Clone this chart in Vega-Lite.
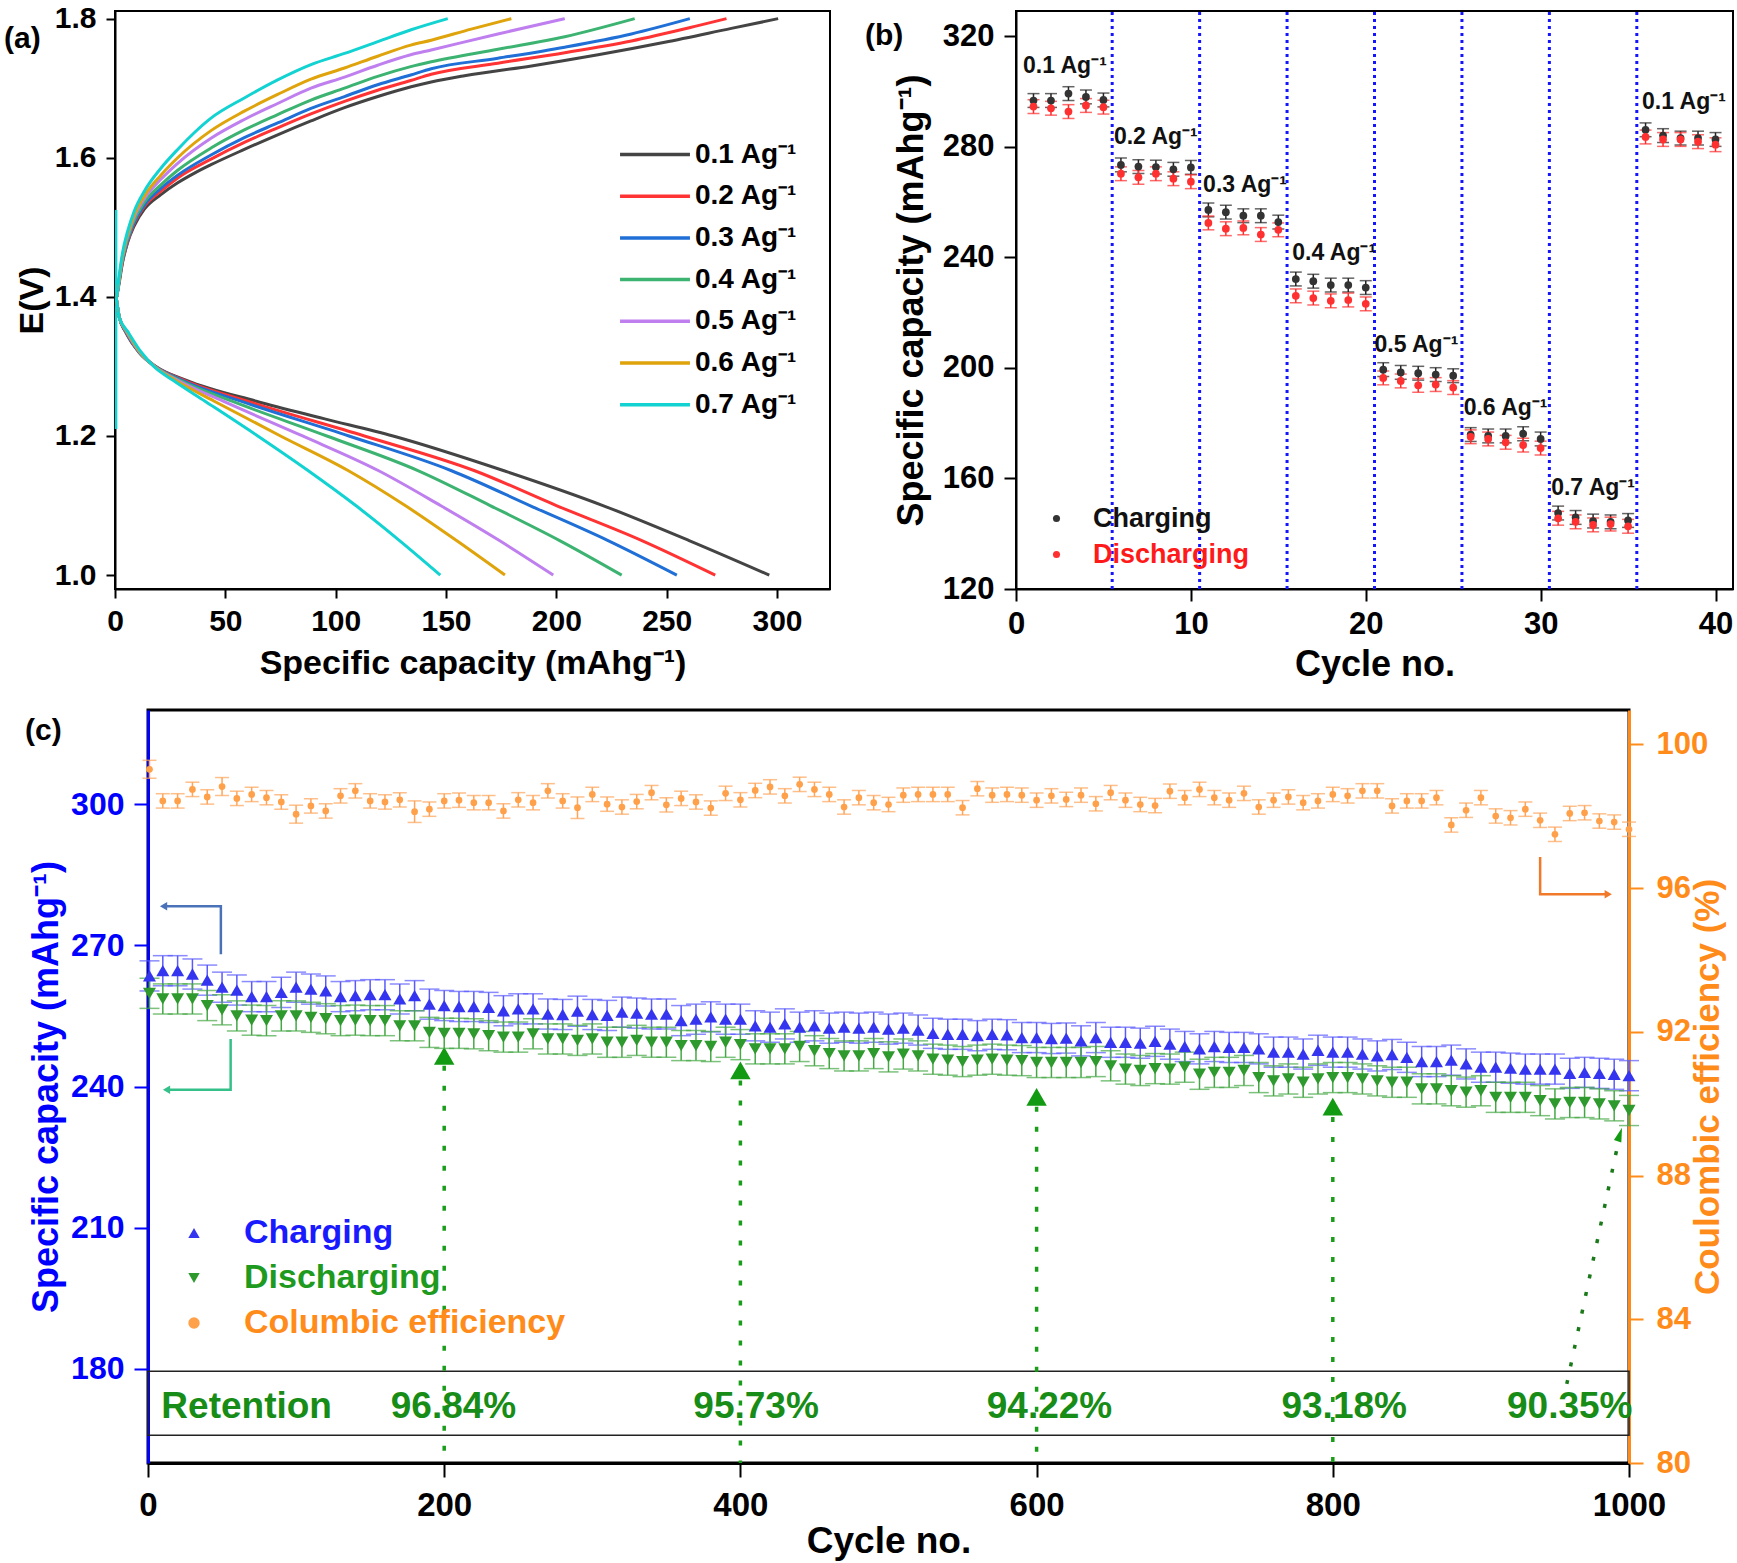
{
"$schema": "https://vega.github.io/schema/vega-lite/v6.json",
"background": "white",
"padding": {"left": 3, "top": 2, "right": 2, "bottom": 2},
"config": {
  "font": "Liberation Sans",
  "view": {"stroke": "#000000", "strokeWidth": 2},
  "axis": {"grid": false, "labelFont": "Liberation Sans", "titleFont": "Liberation Sans", "labelFontWeight": "bold", "titleFontWeight": "bold", "labelColor": "#000000", "titleColor": "#000000", "domainColor": "#000000", "tickColor": "#000000", "domainWidth": 2, "tickWidth": 2, "labelFlush": false, "labelOverlap": false},
  "legend": {"labelFont": "Liberation Sans", "labelFontWeight": "bold", "padding": 0, "symbolOpacity": 1, "labelLimit": 400},
  "title": {"font": "Liberation Sans", "fontWeight": "bold", "fontSize": 30, "color": "#000000", "anchor": "start", "frame": "group", "offset": 0}
},
"datasets": {
"gcd": [
{"r":"0.1 Ag⁻¹","b":"c","x":0.8,"E":1.4},{"r":"0.1 Ag⁻¹","b":"c","x":1.9,"E":1.42},{"r":"0.1 Ag⁻¹","b":"c","x":3.4,"E":1.449},{"r":"0.1 Ag⁻¹","b":"c","x":5.7,"E":1.478},{"r":"0.1 Ag⁻¹","b":"c","x":8.7,"E":1.502},{"r":"0.1 Ag⁻¹","b":"c","x":13.3,"E":1.526},{"r":"0.1 Ag⁻¹","b":"c","x":20.8,"E":1.547},{"r":"0.1 Ag⁻¹","b":"c","x":28.4,"E":1.564},{"r":"0.1 Ag⁻¹","b":"c","x":36,"E":1.578},{"r":"0.1 Ag⁻¹","b":"c","x":43.5,"E":1.59},{"r":"0.1 Ag⁻¹","b":"c","x":58.6,"E":1.612},{"r":"0.1 Ag⁻¹","b":"c","x":73.7,"E":1.633},{"r":"0.1 Ag⁻¹","b":"c","x":88.8,"E":1.653},{"r":"0.1 Ag⁻¹","b":"c","x":104,"E":1.672},{"r":"0.1 Ag⁻¹","b":"c","x":119.1,"E":1.688},{"r":"0.1 Ag⁻¹","b":"c","x":134.2,"E":1.702},{"r":"0.1 Ag⁻¹","b":"c","x":143.3,"E":1.709},{"r":"0.1 Ag⁻¹","b":"c","x":158.4,"E":1.718},{"r":"0.1 Ag⁻¹","b":"c","x":188.7,"E":1.732},{"r":"0.1 Ag⁻¹","b":"c","x":218.9,"E":1.748},{"r":"0.1 Ag⁻¹","b":"c","x":249.1,"E":1.766},{"r":"0.1 Ag⁻¹","b":"c","x":279.3,"E":1.786},{"r":"0.1 Ag⁻¹","b":"c","x":300.5,"E":1.8},
{"r":"0.1 Ag⁻¹","b":"d","x":0.5,"E":1.4},{"r":"0.1 Ag⁻¹","b":"d","x":2,"E":1.37},{"r":"0.1 Ag⁻¹","b":"d","x":4.7,"E":1.35},{"r":"0.1 Ag⁻¹","b":"d","x":11,"E":1.32},{"r":"0.1 Ag⁻¹","b":"d","x":18.5,"E":1.3},{"r":"0.1 Ag⁻¹","b":"d","x":32.4,"E":1.28},{"r":"0.1 Ag⁻¹","b":"d","x":64,"E":1.25},{"r":"0.1 Ag⁻¹","b":"d","x":94.6,"E":1.225},{"r":"0.1 Ag⁻¹","b":"d","x":126,"E":1.2},{"r":"0.1 Ag⁻¹","b":"d","x":176.3,"E":1.15},{"r":"0.1 Ag⁻¹","b":"d","x":221.1,"E":1.1},{"r":"0.1 Ag⁻¹","b":"d","x":259.9,"E":1.05},{"r":"0.1 Ag⁻¹","b":"d","x":296.5,"E":1.0},
{"r":"0.2 Ag⁻¹","b":"c","x":0.8,"E":1.4},{"r":"0.2 Ag⁻¹","b":"c","x":3.4,"E":1.451},{"r":"0.2 Ag⁻¹","b":"c","x":8,"E":1.5},{"r":"0.2 Ag⁻¹","b":"c","x":13.3,"E":1.53},{"r":"0.2 Ag⁻¹","b":"c","x":20.8,"E":1.552},{"r":"0.2 Ag⁻¹","b":"c","x":28.4,"E":1.571},{"r":"0.2 Ag⁻¹","b":"c","x":43.5,"E":1.598},{"r":"0.2 Ag⁻¹","b":"c","x":58.6,"E":1.622},{"r":"0.2 Ag⁻¹","b":"c","x":73.7,"E":1.643},{"r":"0.2 Ag⁻¹","b":"c","x":88.8,"E":1.663},{"r":"0.2 Ag⁻¹","b":"c","x":104,"E":1.681},{"r":"0.2 Ag⁻¹","b":"c","x":119,"E":1.697},{"r":"0.2 Ag⁻¹","b":"c","x":134,"E":1.711},{"r":"0.2 Ag⁻¹","b":"c","x":143.3,"E":1.72},{"r":"0.2 Ag⁻¹","b":"c","x":173.5,"E":1.736},{"r":"0.2 Ag⁻¹","b":"c","x":203.8,"E":1.751},{"r":"0.2 Ag⁻¹","b":"c","x":234,"E":1.768},{"r":"0.2 Ag⁻¹","b":"c","x":264.2,"E":1.79},{"r":"0.2 Ag⁻¹","b":"c","x":277.1,"E":1.8},
{"r":"0.2 Ag⁻¹","b":"d","x":0.5,"E":1.4},{"r":"0.2 Ag⁻¹","b":"d","x":2,"E":1.37},{"r":"0.2 Ag⁻¹","b":"d","x":4.8,"E":1.35},{"r":"0.2 Ag⁻¹","b":"d","x":11,"E":1.32},{"r":"0.2 Ag⁻¹","b":"d","x":18.3,"E":1.3},{"r":"0.2 Ag⁻¹","b":"d","x":31.4,"E":1.28},{"r":"0.2 Ag⁻¹","b":"d","x":60,"E":1.25},{"r":"0.2 Ag⁻¹","b":"d","x":113,"E":1.2},{"r":"0.2 Ag⁻¹","b":"d","x":163,"E":1.15},{"r":"0.2 Ag⁻¹","b":"d","x":200,"E":1.1},{"r":"0.2 Ag⁻¹","b":"d","x":238.5,"E":1.05},{"r":"0.2 Ag⁻¹","b":"d","x":272,"E":1.0},
{"r":"0.3 Ag⁻¹","b":"c","x":0.8,"E":1.4},{"r":"0.3 Ag⁻¹","b":"c","x":3.4,"E":1.452},{"r":"0.3 Ag⁻¹","b":"c","x":8,"E":1.502},{"r":"0.3 Ag⁻¹","b":"c","x":13.3,"E":1.532},{"r":"0.3 Ag⁻¹","b":"c","x":20.8,"E":1.556},{"r":"0.3 Ag⁻¹","b":"c","x":28.4,"E":1.575},{"r":"0.3 Ag⁻¹","b":"c","x":43.5,"E":1.604},{"r":"0.3 Ag⁻¹","b":"c","x":58.6,"E":1.629},{"r":"0.3 Ag⁻¹","b":"c","x":73.7,"E":1.65},{"r":"0.3 Ag⁻¹","b":"c","x":88.8,"E":1.671},{"r":"0.3 Ag⁻¹","b":"c","x":104,"E":1.688},{"r":"0.3 Ag⁻¹","b":"c","x":119,"E":1.705},{"r":"0.3 Ag⁻¹","b":"c","x":134,"E":1.719},{"r":"0.3 Ag⁻¹","b":"c","x":143.3,"E":1.728},{"r":"0.3 Ag⁻¹","b":"c","x":173.5,"E":1.743},{"r":"0.3 Ag⁻¹","b":"c","x":203.8,"E":1.759},{"r":"0.3 Ag⁻¹","b":"c","x":234,"E":1.778},{"r":"0.3 Ag⁻¹","b":"c","x":260.5,"E":1.8},
{"r":"0.3 Ag⁻¹","b":"d","x":0.5,"E":1.4},{"r":"0.3 Ag⁻¹","b":"d","x":2,"E":1.37},{"r":"0.3 Ag⁻¹","b":"d","x":4.9,"E":1.35},{"r":"0.3 Ag⁻¹","b":"d","x":11,"E":1.32},{"r":"0.3 Ag⁻¹","b":"d","x":18.2,"E":1.3},{"r":"0.3 Ag⁻¹","b":"d","x":30.4,"E":1.28},{"r":"0.3 Ag⁻¹","b":"d","x":57,"E":1.25},{"r":"0.3 Ag⁻¹","b":"d","x":106,"E":1.2},{"r":"0.3 Ag⁻¹","b":"d","x":152.5,"E":1.15},{"r":"0.3 Ag⁻¹","b":"d","x":188,"E":1.1},{"r":"0.3 Ag⁻¹","b":"d","x":223.2,"E":1.05},{"r":"0.3 Ag⁻¹","b":"d","x":254.6,"E":1.0},
{"r":"0.4 Ag⁻¹","b":"c","x":0.8,"E":1.4},{"r":"0.4 Ag⁻¹","b":"c","x":3.4,"E":1.454},{"r":"0.4 Ag⁻¹","b":"c","x":8,"E":1.505},{"r":"0.4 Ag⁻¹","b":"c","x":13.3,"E":1.536},{"r":"0.4 Ag⁻¹","b":"c","x":20.8,"E":1.561},{"r":"0.4 Ag⁻¹","b":"c","x":28.4,"E":1.582},{"r":"0.4 Ag⁻¹","b":"c","x":43.5,"E":1.614},{"r":"0.4 Ag⁻¹","b":"c","x":58.6,"E":1.64},{"r":"0.4 Ag⁻¹","b":"c","x":73.7,"E":1.662},{"r":"0.4 Ag⁻¹","b":"c","x":88.8,"E":1.683},{"r":"0.4 Ag⁻¹","b":"c","x":104,"E":1.7},{"r":"0.4 Ag⁻¹","b":"c","x":119,"E":1.717},{"r":"0.4 Ag⁻¹","b":"c","x":134,"E":1.731},{"r":"0.4 Ag⁻¹","b":"c","x":143.3,"E":1.738},{"r":"0.4 Ag⁻¹","b":"c","x":173.5,"E":1.756},{"r":"0.4 Ag⁻¹","b":"c","x":203.8,"E":1.774},{"r":"0.4 Ag⁻¹","b":"c","x":235.5,"E":1.8},
{"r":"0.4 Ag⁻¹","b":"d","x":0.5,"E":1.4},{"r":"0.4 Ag⁻¹","b":"d","x":2,"E":1.37},{"r":"0.4 Ag⁻¹","b":"d","x":5.1,"E":1.35},{"r":"0.4 Ag⁻¹","b":"d","x":11.2,"E":1.32},{"r":"0.4 Ag⁻¹","b":"d","x":18,"E":1.3},{"r":"0.4 Ag⁻¹","b":"d","x":29.4,"E":1.28},{"r":"0.4 Ag⁻¹","b":"d","x":53,"E":1.25},{"r":"0.4 Ag⁻¹","b":"d","x":96,"E":1.2},{"r":"0.4 Ag⁻¹","b":"d","x":137.5,"E":1.15},{"r":"0.4 Ag⁻¹","b":"d","x":170,"E":1.1},{"r":"0.4 Ag⁻¹","b":"d","x":201.3,"E":1.05},{"r":"0.4 Ag⁻¹","b":"d","x":229.6,"E":1.0},
{"r":"0.5 Ag⁻¹","b":"c","x":0.8,"E":1.4},{"r":"0.5 Ag⁻¹","b":"c","x":3.4,"E":1.457},{"r":"0.5 Ag⁻¹","b":"c","x":8,"E":1.509},{"r":"0.5 Ag⁻¹","b":"c","x":13.3,"E":1.541},{"r":"0.5 Ag⁻¹","b":"c","x":20.8,"E":1.569},{"r":"0.5 Ag⁻¹","b":"c","x":28.4,"E":1.592},{"r":"0.5 Ag⁻¹","b":"c","x":43.5,"E":1.628},{"r":"0.5 Ag⁻¹","b":"c","x":58.6,"E":1.655},{"r":"0.5 Ag⁻¹","b":"c","x":73.7,"E":1.678},{"r":"0.5 Ag⁻¹","b":"c","x":88.8,"E":1.7},{"r":"0.5 Ag⁻¹","b":"c","x":104,"E":1.716},{"r":"0.5 Ag⁻¹","b":"c","x":119,"E":1.733},{"r":"0.5 Ag⁻¹","b":"c","x":134,"E":1.748},{"r":"0.5 Ag⁻¹","b":"c","x":143.3,"E":1.755},{"r":"0.5 Ag⁻¹","b":"c","x":173.5,"E":1.778},{"r":"0.5 Ag⁻¹","b":"c","x":203.8,"E":1.8},
{"r":"0.5 Ag⁻¹","b":"d","x":0.5,"E":1.4},{"r":"0.5 Ag⁻¹","b":"d","x":2,"E":1.37},{"r":"0.5 Ag⁻¹","b":"d","x":5.3,"E":1.35},{"r":"0.5 Ag⁻¹","b":"d","x":11.4,"E":1.32},{"r":"0.5 Ag⁻¹","b":"d","x":17.9,"E":1.3},{"r":"0.5 Ag⁻¹","b":"d","x":28.4,"E":1.28},{"r":"0.5 Ag⁻¹","b":"d","x":49,"E":1.25},{"r":"0.5 Ag⁻¹","b":"d","x":85,"E":1.2},{"r":"0.5 Ag⁻¹","b":"d","x":119.5,"E":1.15},{"r":"0.5 Ag⁻¹","b":"d","x":147.5,"E":1.1},{"r":"0.5 Ag⁻¹","b":"d","x":174,"E":1.05},{"r":"0.5 Ag⁻¹","b":"d","x":198.6,"E":1.0},
{"r":"0.6 Ag⁻¹","b":"c","x":0.8,"E":1.4},{"r":"0.6 Ag⁻¹","b":"c","x":3.4,"E":1.459},{"r":"0.6 Ag⁻¹","b":"c","x":8,"E":1.512},{"r":"0.6 Ag⁻¹","b":"c","x":13.3,"E":1.545},{"r":"0.6 Ag⁻¹","b":"c","x":20.8,"E":1.575},{"r":"0.6 Ag⁻¹","b":"c","x":28.4,"E":1.6},{"r":"0.6 Ag⁻¹","b":"c","x":43.5,"E":1.639},{"r":"0.6 Ag⁻¹","b":"c","x":58.6,"E":1.667},{"r":"0.6 Ag⁻¹","b":"c","x":73.7,"E":1.691},{"r":"0.6 Ag⁻¹","b":"c","x":88.8,"E":1.713},{"r":"0.6 Ag⁻¹","b":"c","x":104,"E":1.729},{"r":"0.6 Ag⁻¹","b":"c","x":119,"E":1.746},{"r":"0.6 Ag⁻¹","b":"c","x":134,"E":1.762},{"r":"0.6 Ag⁻¹","b":"c","x":143.3,"E":1.769},{"r":"0.6 Ag⁻¹","b":"c","x":161.4,"E":1.785},{"r":"0.6 Ag⁻¹","b":"c","x":179.6,"E":1.8},
{"r":"0.6 Ag⁻¹","b":"d","x":0.5,"E":1.4},{"r":"0.6 Ag⁻¹","b":"d","x":2,"E":1.37},{"r":"0.6 Ag⁻¹","b":"d","x":5.5,"E":1.35},{"r":"0.6 Ag⁻¹","b":"d","x":11.6,"E":1.32},{"r":"0.6 Ag⁻¹","b":"d","x":17.8,"E":1.3},{"r":"0.6 Ag⁻¹","b":"d","x":27.4,"E":1.28},{"r":"0.6 Ag⁻¹","b":"d","x":45,"E":1.25},{"r":"0.6 Ag⁻¹","b":"d","x":75,"E":1.2},{"r":"0.6 Ag⁻¹","b":"d","x":105.8,"E":1.15},{"r":"0.6 Ag⁻¹","b":"d","x":131.5,"E":1.1},{"r":"0.6 Ag⁻¹","b":"d","x":154.6,"E":1.05},{"r":"0.6 Ag⁻¹","b":"d","x":176.7,"E":1.0},
{"r":"0.7 Ag⁻¹","b":"c","x":0.8,"E":1.4},{"r":"0.7 Ag⁻¹","b":"c","x":1.9,"E":1.43},{"r":"0.7 Ag⁻¹","b":"c","x":3.4,"E":1.463},{"r":"0.7 Ag⁻¹","b":"c","x":5.7,"E":1.494},{"r":"0.7 Ag⁻¹","b":"c","x":8.7,"E":1.523},{"r":"0.7 Ag⁻¹","b":"c","x":13.3,"E":1.552},{"r":"0.7 Ag⁻¹","b":"c","x":20.8,"E":1.585},{"r":"0.7 Ag⁻¹","b":"c","x":28.4,"E":1.612},{"r":"0.7 Ag⁻¹","b":"c","x":35.9,"E":1.636},{"r":"0.7 Ag⁻¹","b":"c","x":43.5,"E":1.657},{"r":"0.7 Ag⁻¹","b":"c","x":58.6,"E":1.686},{"r":"0.7 Ag⁻¹","b":"c","x":73.7,"E":1.712},{"r":"0.7 Ag⁻¹","b":"c","x":88.8,"E":1.734},{"r":"0.7 Ag⁻¹","b":"c","x":104,"E":1.75},{"r":"0.7 Ag⁻¹","b":"c","x":119.1,"E":1.767},{"r":"0.7 Ag⁻¹","b":"c","x":134.2,"E":1.784},{"r":"0.7 Ag⁻¹","b":"c","x":150.8,"E":1.8},
{"r":"0.7 Ag⁻¹","b":"d","x":0.5,"E":1.4},{"r":"0.7 Ag⁻¹","b":"d","x":2,"E":1.37},{"r":"0.7 Ag⁻¹","b":"d","x":5.8,"E":1.35},{"r":"0.7 Ag⁻¹","b":"d","x":12,"E":1.32},{"r":"0.7 Ag⁻¹","b":"d","x":17.6,"E":1.3},{"r":"0.7 Ag⁻¹","b":"d","x":26.3,"E":1.28},{"r":"0.7 Ag⁻¹","b":"d","x":40.8,"E":1.25},{"r":"0.7 Ag⁻¹","b":"d","x":64.7,"E":1.2},{"r":"0.7 Ag⁻¹","b":"d","x":87.6,"E":1.15},{"r":"0.7 Ag⁻¹","b":"d","x":109.1,"E":1.1},{"r":"0.7 Ag⁻¹","b":"d","x":128.8,"E":1.05},{"r":"0.7 Ag⁻¹","b":"d","x":147.4,"E":1.0}
],
"rate": [
{"cyc":1,"s":"Charging","v":296.8,"e":2.5},{"cyc":2,"s":"Charging","v":296.8,"e":2.5},{"cyc":3,"s":"Charging","v":299.3,"e":2.5},{"cyc":4,"s":"Charging","v":298.1,"e":2.5},{"cyc":5,"s":"Charging","v":297.0,"e":2.5},
{"cyc":6,"s":"Charging","v":273.5,"e":2.5},{"cyc":7,"s":"Charging","v":272.9,"e":2.5},{"cyc":8,"s":"Charging","v":272.7,"e":2.5},{"cyc":9,"s":"Charging","v":271.9,"e":2.5},{"cyc":10,"s":"Charging","v":272.6,"e":2.5},
{"cyc":11,"s":"Charging","v":257.2,"e":2.5},{"cyc":12,"s":"Charging","v":256.4,"e":2.5},{"cyc":13,"s":"Charging","v":255.1,"e":2.5},{"cyc":14,"s":"Charging","v":255.1,"e":2.5},{"cyc":15,"s":"Charging","v":252.8,"e":2.5},
{"cyc":16,"s":"Charging","v":232.2,"e":2.5},{"cyc":17,"s":"Charging","v":231.4,"e":2.5},{"cyc":18,"s":"Charging","v":230.0,"e":2.5},{"cyc":19,"s":"Charging","v":230.0,"e":2.5},{"cyc":20,"s":"Charging","v":229.1,"e":2.5},
{"cyc":21,"s":"Charging","v":199.4,"e":2.5},{"cyc":22,"s":"Charging","v":198.4,"e":2.5},{"cyc":23,"s":"Charging","v":198.1,"e":2.5},{"cyc":24,"s":"Charging","v":197.6,"e":2.5},{"cyc":25,"s":"Charging","v":197.2,"e":2.5},
{"cyc":26,"s":"Charging","v":175.9,"e":2.5},{"cyc":27,"s":"Charging","v":175.4,"e":2.5},{"cyc":28,"s":"Charging","v":175.4,"e":2.5},{"cyc":29,"s":"Charging","v":176.2,"e":2.5},{"cyc":30,"s":"Charging","v":174.3,"e":2.5},
{"cyc":31,"s":"Charging","v":147.5,"e":2.5},{"cyc":32,"s":"Charging","v":145.9,"e":2.5},{"cyc":33,"s":"Charging","v":144.6,"e":2.5},{"cyc":34,"s":"Charging","v":144.3,"e":2.5},{"cyc":35,"s":"Charging","v":144.8,"e":2.5},
{"cyc":36,"s":"Charging","v":286.2,"e":2.5},{"cyc":37,"s":"Charging","v":284.1,"e":2.5},{"cyc":38,"s":"Charging","v":283.2,"e":2.5},{"cyc":39,"s":"Charging","v":283.2,"e":2.5},{"cyc":40,"s":"Charging","v":282.7,"e":2.5},
{"cyc":1,"s":"Discharging","v":294.6,"e":2.5},{"cyc":2,"s":"Discharging","v":294.0,"e":2.5},{"cyc":3,"s":"Discharging","v":292.8,"e":2.5},{"cyc":4,"s":"Discharging","v":295.0,"e":2.5},{"cyc":5,"s":"Discharging","v":294.4,"e":2.5},
{"cyc":6,"s":"Discharging","v":270.3,"e":2.5},{"cyc":7,"s":"Discharging","v":269.0,"e":2.5},{"cyc":8,"s":"Discharging","v":270.3,"e":2.5},{"cyc":9,"s":"Discharging","v":268.5,"e":2.5},{"cyc":10,"s":"Discharging","v":267.4,"e":2.5},
{"cyc":11,"s":"Discharging","v":252.5,"e":2.5},{"cyc":12,"s":"Discharging","v":250.4,"e":2.5},{"cyc":13,"s":"Discharging","v":250.7,"e":2.5},{"cyc":14,"s":"Discharging","v":248.3,"e":2.5},{"cyc":15,"s":"Discharging","v":250.0,"e":2.5},
{"cyc":16,"s":"Discharging","v":226.1,"e":2.5},{"cyc":17,"s":"Discharging","v":225.3,"e":2.5},{"cyc":18,"s":"Discharging","v":224.3,"e":2.5},{"cyc":19,"s":"Discharging","v":224.6,"e":2.5},{"cyc":20,"s":"Discharging","v":223.2,"e":2.5},
{"cyc":21,"s":"Discharging","v":196.4,"e":2.5},{"cyc":22,"s":"Discharging","v":195.3,"e":2.5},{"cyc":23,"s":"Discharging","v":193.7,"e":2.5},{"cyc":24,"s":"Discharging","v":194.0,"e":2.5},{"cyc":25,"s":"Discharging","v":192.9,"e":2.5},
{"cyc":26,"s":"Discharging","v":175.1,"e":2.5},{"cyc":27,"s":"Discharging","v":174.3,"e":2.5},{"cyc":28,"s":"Discharging","v":173.1,"e":2.5},{"cyc":29,"s":"Discharging","v":172.1,"e":2.5},{"cyc":30,"s":"Discharging","v":171.0,"e":2.5},
{"cyc":31,"s":"Discharging","v":145.6,"e":2.5},{"cyc":32,"s":"Discharging","v":144.3,"e":2.5},{"cyc":33,"s":"Discharging","v":143.2,"e":2.5},{"cyc":34,"s":"Discharging","v":143.5,"e":2.5},{"cyc":35,"s":"Discharging","v":142.7,"e":2.5},
{"cyc":36,"s":"Discharging","v":283.6,"e":2.5},{"cyc":37,"s":"Discharging","v":282.7,"e":2.5},{"cyc":38,"s":"Discharging","v":282.7,"e":2.5},{"cyc":39,"s":"Discharging","v":281.9,"e":2.5},{"cyc":40,"s":"Discharging","v":280.8,"e":2.5}
],
"cap": [
{"cycle":1,"s":"Charging","v":263.5,"e":3.2},{"cycle":10,"s":"Charging","v":264.6,"e":3.2},{"cycle":20,"s":"Charging","v":264.6,"e":3.2},{"cycle":30,"s":"Charging","v":263.9,"e":3.2},{"cycle":40,"s":"Charging","v":262.6,"e":3.2},{"cycle":50,"s":"Charging","v":261.1,"e":3.2},{"cycle":60,"s":"Charging","v":260.5,"e":3.2},{"cycle":70,"s":"Charging","v":259.1,"e":3.2},{"cycle":80,"s":"Charging","v":259.1,"e":3.2},{"cycle":90,"s":"Charging","v":260.0,"e":3.2},
{"cycle":100,"s":"Charging","v":261.1,"e":3.2},{"cycle":110,"s":"Charging","v":260.7,"e":3.2},{"cycle":120,"s":"Charging","v":260.3,"e":3.2},{"cycle":130,"s":"Charging","v":259.1,"e":3.2},{"cycle":140,"s":"Charging","v":259.3,"e":3.2},{"cycle":150,"s":"Charging","v":259.5,"e":3.2},{"cycle":160,"s":"Charging","v":259.5,"e":3.2},{"cycle":170,"s":"Charging","v":258.6,"e":3.2},{"cycle":180,"s":"Charging","v":259.3,"e":3.2},{"cycle":190,"s":"Charging","v":257.5,"e":3.2},
{"cycle":200,"s":"Charging","v":257.2,"e":3.2},{"cycle":210,"s":"Charging","v":257.0,"e":3.2},{"cycle":220,"s":"Charging","v":257.0,"e":3.2},{"cycle":230,"s":"Charging","v":256.8,"e":3.2},{"cycle":240,"s":"Charging","v":256.1,"e":3.2},{"cycle":250,"s":"Charging","v":256.5,"e":3.2},{"cycle":260,"s":"Charging","v":256.5,"e":3.2},{"cycle":270,"s":"Charging","v":255.4,"e":3.2},{"cycle":280,"s":"Charging","v":255.3,"e":3.2},{"cycle":290,"s":"Charging","v":256.0,"e":3.2},
{"cycle":300,"s":"Charging","v":255.3,"e":3.2},{"cycle":310,"s":"Charging","v":255.1,"e":3.2},{"cycle":320,"s":"Charging","v":255.8,"e":3.2},{"cycle":330,"s":"Charging","v":255.6,"e":3.2},{"cycle":340,"s":"Charging","v":255.4,"e":3.2},{"cycle":350,"s":"Charging","v":255.4,"e":3.2},{"cycle":360,"s":"Charging","v":254.0,"e":3.2},{"cycle":370,"s":"Charging","v":254.3,"e":3.2},{"cycle":380,"s":"Charging","v":254.8,"e":3.2},{"cycle":390,"s":"Charging","v":254.3,"e":3.2},
{"cycle":400,"s":"Charging","v":254.3,"e":3.2},{"cycle":410,"s":"Charging","v":252.9,"e":3.2},{"cycle":420,"s":"Charging","v":252.6,"e":3.2},{"cycle":430,"s":"Charging","v":253.3,"e":3.2},{"cycle":440,"s":"Charging","v":252.6,"e":3.2},{"cycle":450,"s":"Charging","v":252.9,"e":3.2},{"cycle":460,"s":"Charging","v":252.4,"e":3.2},{"cycle":470,"s":"Charging","v":252.6,"e":3.2},{"cycle":480,"s":"Charging","v":252.4,"e":3.2},{"cycle":490,"s":"Charging","v":252.6,"e":3.2},
{"cycle":500,"s":"Charging","v":252.2,"e":3.2},{"cycle":510,"s":"Charging","v":252.4,"e":3.2},{"cycle":520,"s":"Charging","v":252.0,"e":3.2},{"cycle":530,"s":"Charging","v":251.3,"e":3.2},{"cycle":540,"s":"Charging","v":251.1,"e":3.2},{"cycle":550,"s":"Charging","v":251.1,"e":3.2},{"cycle":560,"s":"Charging","v":250.8,"e":3.2},{"cycle":570,"s":"Charging","v":251.1,"e":3.2},{"cycle":580,"s":"Charging","v":251.0,"e":3.2},{"cycle":590,"s":"Charging","v":250.4,"e":3.2},
{"cycle":600,"s":"Charging","v":250.4,"e":3.2},{"cycle":610,"s":"Charging","v":250.2,"e":3.2},{"cycle":620,"s":"Charging","v":250.3,"e":3.2},{"cycle":630,"s":"Charging","v":249.7,"e":3.2},{"cycle":640,"s":"Charging","v":250.4,"e":3.2},{"cycle":650,"s":"Charging","v":249.4,"e":3.2},{"cycle":660,"s":"Charging","v":249.4,"e":3.2},{"cycle":670,"s":"Charging","v":249.2,"e":3.2},{"cycle":680,"s":"Charging","v":249.6,"e":3.2},{"cycle":690,"s":"Charging","v":249.0,"e":3.2},
{"cycle":700,"s":"Charging","v":248.5,"e":3.2},{"cycle":710,"s":"Charging","v":248.0,"e":3.2},{"cycle":720,"s":"Charging","v":248.5,"e":3.2},{"cycle":730,"s":"Charging","v":248.3,"e":3.2},{"cycle":740,"s":"Charging","v":248.3,"e":3.2},{"cycle":750,"s":"Charging","v":248.0,"e":3.2},{"cycle":760,"s":"Charging","v":247.3,"e":3.2},{"cycle":770,"s":"Charging","v":247.3,"e":3.2},{"cycle":780,"s":"Charging","v":246.9,"e":3.2},{"cycle":790,"s":"Charging","v":247.7,"e":3.2},
{"cycle":800,"s":"Charging","v":247.3,"e":3.2},{"cycle":810,"s":"Charging","v":247.3,"e":3.2},{"cycle":820,"s":"Charging","v":246.9,"e":3.2},{"cycle":830,"s":"Charging","v":246.5,"e":3.2},{"cycle":840,"s":"Charging","v":246.8,"e":3.2},{"cycle":850,"s":"Charging","v":246.2,"e":3.2},{"cycle":860,"s":"Charging","v":245.3,"e":3.2},{"cycle":870,"s":"Charging","v":245.3,"e":3.2},{"cycle":880,"s":"Charging","v":245.6,"e":3.2},{"cycle":890,"s":"Charging","v":244.8,"e":3.2},
{"cycle":900,"s":"Charging","v":244.1,"e":3.2},{"cycle":910,"s":"Charging","v":244.1,"e":3.2},{"cycle":920,"s":"Charging","v":243.9,"e":3.2},{"cycle":930,"s":"Charging","v":243.7,"e":3.2},{"cycle":940,"s":"Charging","v":243.7,"e":3.2},{"cycle":950,"s":"Charging","v":243.7,"e":3.2},{"cycle":960,"s":"Charging","v":242.8,"e":3.2},{"cycle":970,"s":"Charging","v":243.0,"e":3.2},{"cycle":980,"s":"Charging","v":242.8,"e":3.2},{"cycle":990,"s":"Charging","v":242.6,"e":3.2},{"cycle":1000,"s":"Charging","v":242.3,"e":3.2},
{"cycle":1,"s":"Discharging","v":259.8,"e":3.2},{"cycle":10,"s":"Discharging","v":258.6,"e":3.2},{"cycle":20,"s":"Discharging","v":258.6,"e":3.2},{"cycle":30,"s":"Discharging","v":258.6,"e":3.2},{"cycle":40,"s":"Discharging","v":257.2,"e":3.2},{"cycle":50,"s":"Discharging","v":256.3,"e":3.2},{"cycle":60,"s":"Discharging","v":255.0,"e":3.2},{"cycle":70,"s":"Discharging","v":254.1,"e":3.2},{"cycle":80,"s":"Discharging","v":254.0,"e":3.2},{"cycle":90,"s":"Discharging","v":255.0,"e":3.2},
{"cycle":100,"s":"Discharging","v":255.0,"e":3.2},{"cycle":110,"s":"Discharging","v":254.7,"e":3.2},{"cycle":120,"s":"Discharging","v":254.4,"e":3.2},{"cycle":130,"s":"Discharging","v":254.0,"e":3.2},{"cycle":140,"s":"Discharging","v":254.1,"e":3.2},{"cycle":150,"s":"Discharging","v":254.0,"e":3.2},{"cycle":160,"s":"Discharging","v":254.0,"e":3.2},{"cycle":170,"s":"Discharging","v":252.9,"e":3.2},{"cycle":180,"s":"Discharging","v":252.9,"e":3.2},{"cycle":190,"s":"Discharging","v":251.5,"e":3.2},
{"cycle":200,"s":"Discharging","v":251.3,"e":3.2},{"cycle":210,"s":"Discharging","v":251.3,"e":3.2},{"cycle":220,"s":"Discharging","v":251.2,"e":3.2},{"cycle":230,"s":"Discharging","v":250.8,"e":3.2},{"cycle":240,"s":"Discharging","v":250.5,"e":3.2},{"cycle":250,"s":"Discharging","v":250.5,"e":3.2},{"cycle":260,"s":"Discharging","v":251.2,"e":3.2},{"cycle":270,"s":"Discharging","v":250.1,"e":3.2},{"cycle":280,"s":"Discharging","v":250.1,"e":3.2},{"cycle":290,"s":"Discharging","v":249.8,"e":3.2},
{"cycle":300,"s":"Discharging","v":250.1,"e":3.2},{"cycle":310,"s":"Discharging","v":249.4,"e":3.2},{"cycle":320,"s":"Discharging","v":249.4,"e":3.2},{"cycle":330,"s":"Discharging","v":249.8,"e":3.2},{"cycle":340,"s":"Discharging","v":249.4,"e":3.2},{"cycle":350,"s":"Discharging","v":249.4,"e":3.2},{"cycle":360,"s":"Discharging","v":248.7,"e":3.2},{"cycle":370,"s":"Discharging","v":248.7,"e":3.2},{"cycle":380,"s":"Discharging","v":248.5,"e":3.2},{"cycle":390,"s":"Discharging","v":249.4,"e":3.2},
{"cycle":400,"s":"Discharging","v":248.9,"e":3.2},{"cycle":410,"s":"Discharging","v":248.0,"e":3.2},{"cycle":420,"s":"Discharging","v":248.0,"e":3.2},{"cycle":430,"s":"Discharging","v":248.0,"e":3.2},{"cycle":440,"s":"Discharging","v":248.5,"e":3.2},{"cycle":450,"s":"Discharging","v":247.6,"e":3.2},{"cycle":460,"s":"Discharging","v":247.0,"e":3.2},{"cycle":470,"s":"Discharging","v":246.5,"e":3.2},{"cycle":480,"s":"Discharging","v":246.5,"e":3.2},{"cycle":490,"s":"Discharging","v":247.0,"e":3.2},
{"cycle":500,"s":"Discharging","v":246.3,"e":3.2},{"cycle":510,"s":"Discharging","v":246.9,"e":3.2},{"cycle":520,"s":"Discharging","v":246.5,"e":3.2},{"cycle":530,"s":"Discharging","v":245.8,"e":3.2},{"cycle":540,"s":"Discharging","v":245.6,"e":3.2},{"cycle":550,"s":"Discharging","v":245.3,"e":3.2},{"cycle":560,"s":"Discharging","v":245.6,"e":3.2},{"cycle":570,"s":"Discharging","v":245.8,"e":3.2},{"cycle":580,"s":"Discharging","v":245.6,"e":3.2},{"cycle":590,"s":"Discharging","v":245.5,"e":3.2},
{"cycle":600,"s":"Discharging","v":245.1,"e":3.2},{"cycle":610,"s":"Discharging","v":245.1,"e":3.2},{"cycle":620,"s":"Discharging","v":245.1,"e":3.2},{"cycle":630,"s":"Discharging","v":245.1,"e":3.2},{"cycle":640,"s":"Discharging","v":245.3,"e":3.2},{"cycle":650,"s":"Discharging","v":244.4,"e":3.2},{"cycle":660,"s":"Discharging","v":243.7,"e":3.2},{"cycle":670,"s":"Discharging","v":243.4,"e":3.2},{"cycle":680,"s":"Discharging","v":243.8,"e":3.2},{"cycle":690,"s":"Discharging","v":243.7,"e":3.2},
{"cycle":700,"s":"Discharging","v":244.1,"e":3.2},{"cycle":710,"s":"Discharging","v":242.6,"e":3.2},{"cycle":720,"s":"Discharging","v":243.0,"e":3.2},{"cycle":730,"s":"Discharging","v":243.0,"e":3.2},{"cycle":740,"s":"Discharging","v":243.4,"e":3.2},{"cycle":750,"s":"Discharging","v":241.9,"e":3.2},{"cycle":760,"s":"Discharging","v":241.2,"e":3.2},{"cycle":770,"s":"Discharging","v":241.6,"e":3.2},{"cycle":780,"s":"Discharging","v":240.9,"e":3.2},{"cycle":790,"s":"Discharging","v":241.6,"e":3.2},
{"cycle":800,"s":"Discharging","v":241.9,"e":3.2},{"cycle":810,"s":"Discharging","v":241.9,"e":3.2},{"cycle":820,"s":"Discharging","v":241.6,"e":3.2},{"cycle":830,"s":"Discharging","v":241.2,"e":3.2},{"cycle":840,"s":"Discharging","v":240.9,"e":3.2},{"cycle":850,"s":"Discharging","v":240.9,"e":3.2},{"cycle":860,"s":"Discharging","v":239.5,"e":3.2},{"cycle":870,"s":"Discharging","v":239.5,"e":3.2},{"cycle":880,"s":"Discharging","v":239.1,"e":3.2},{"cycle":890,"s":"Discharging","v":238.8,"e":3.2},
{"cycle":900,"s":"Discharging","v":239.1,"e":3.2},{"cycle":910,"s":"Discharging","v":237.7,"e":3.2},{"cycle":920,"s":"Discharging","v":237.7,"e":3.2},{"cycle":930,"s":"Discharging","v":237.7,"e":3.2},{"cycle":940,"s":"Discharging","v":237.0,"e":3.2},{"cycle":950,"s":"Discharging","v":236.3,"e":3.2},{"cycle":960,"s":"Discharging","v":236.6,"e":3.2},{"cycle":970,"s":"Discharging","v":236.6,"e":3.2},{"cycle":980,"s":"Discharging","v":236.3,"e":3.2},{"cycle":990,"s":"Discharging","v":235.9,"e":3.2},{"cycle":1000,"s":"Discharging","v":234.9,"e":3.2}
],
"ce": [
{"cycle":1,"s":"Columbic efficiency","ce":99.31,"e":0.25},{"cycle":10,"s":"Columbic efficiency","ce":98.43,"e":0.2},{"cycle":20,"s":"Columbic efficiency","ce":98.43,"e":0.2},{"cycle":30,"s":"Columbic efficiency","ce":98.75,"e":0.2},{"cycle":40,"s":"Columbic efficiency","ce":98.54,"e":0.2},{"cycle":50,"s":"Columbic efficiency","ce":98.83,"e":0.25},{"cycle":60,"s":"Columbic efficiency","ce":98.5,"e":0.2},{"cycle":70,"s":"Columbic efficiency","ce":98.61,"e":0.2},{"cycle":80,"s":"Columbic efficiency","ce":98.52,"e":0.2},{"cycle":90,"s":"Columbic efficiency","ce":98.4,"e":0.2},
{"cycle":100,"s":"Columbic efficiency","ce":98.06,"e":0.25},{"cycle":110,"s":"Columbic efficiency","ce":98.29,"e":0.2},{"cycle":120,"s":"Columbic efficiency","ce":98.15,"e":0.2},{"cycle":130,"s":"Columbic efficiency","ce":98.57,"e":0.2},{"cycle":140,"s":"Columbic efficiency","ce":98.71,"e":0.2},{"cycle":150,"s":"Columbic efficiency","ce":98.43,"e":0.2},{"cycle":160,"s":"Columbic efficiency","ce":98.4,"e":0.2},{"cycle":170,"s":"Columbic efficiency","ce":98.46,"e":0.2},{"cycle":180,"s":"Columbic efficiency","ce":98.13,"e":0.3},{"cycle":190,"s":"Columbic efficiency","ce":98.2,"e":0.2},
{"cycle":200,"s":"Columbic efficiency","ce":98.43,"e":0.2},{"cycle":210,"s":"Columbic efficiency","ce":98.45,"e":0.2},{"cycle":220,"s":"Columbic efficiency","ce":98.38,"e":0.2},{"cycle":230,"s":"Columbic efficiency","ce":98.38,"e":0.2},{"cycle":240,"s":"Columbic efficiency","ce":98.15,"e":0.2},{"cycle":250,"s":"Columbic efficiency","ce":98.46,"e":0.2},{"cycle":260,"s":"Columbic efficiency","ce":98.38,"e":0.2},{"cycle":270,"s":"Columbic efficiency","ce":98.71,"e":0.2},{"cycle":280,"s":"Columbic efficiency","ce":98.43,"e":0.2},{"cycle":290,"s":"Columbic efficiency","ce":98.24,"e":0.3},
{"cycle":300,"s":"Columbic efficiency","ce":98.61,"e":0.2},{"cycle":310,"s":"Columbic efficiency","ce":98.34,"e":0.2},{"cycle":320,"s":"Columbic efficiency","ce":98.26,"e":0.2},{"cycle":330,"s":"Columbic efficiency","ce":98.41,"e":0.2},{"cycle":340,"s":"Columbic efficiency","ce":98.66,"e":0.2},{"cycle":350,"s":"Columbic efficiency","ce":98.32,"e":0.2},{"cycle":360,"s":"Columbic efficiency","ce":98.5,"e":0.2},{"cycle":370,"s":"Columbic efficiency","ce":98.4,"e":0.2},{"cycle":380,"s":"Columbic efficiency","ce":98.23,"e":0.2},{"cycle":390,"s":"Columbic efficiency","ce":98.64,"e":0.2},
{"cycle":400,"s":"Columbic efficiency","ce":98.46,"e":0.2},{"cycle":410,"s":"Columbic efficiency","ce":98.72,"e":0.2},{"cycle":420,"s":"Columbic efficiency","ce":98.82,"e":0.2},{"cycle":430,"s":"Columbic efficiency","ce":98.57,"e":0.2},{"cycle":440,"s":"Columbic efficiency","ce":98.89,"e":0.2},{"cycle":450,"s":"Columbic efficiency","ce":98.75,"e":0.2},{"cycle":460,"s":"Columbic efficiency","ce":98.61,"e":0.2},{"cycle":470,"s":"Columbic efficiency","ce":98.26,"e":0.2},{"cycle":480,"s":"Columbic efficiency","ce":98.52,"e":0.2},{"cycle":490,"s":"Columbic efficiency","ce":98.38,"e":0.2},
{"cycle":500,"s":"Columbic efficiency","ce":98.33,"e":0.2},{"cycle":510,"s":"Columbic efficiency","ce":98.59,"e":0.2},{"cycle":520,"s":"Columbic efficiency","ce":98.61,"e":0.2},{"cycle":530,"s":"Columbic efficiency","ce":98.61,"e":0.2},{"cycle":540,"s":"Columbic efficiency","ce":98.61,"e":0.2},{"cycle":550,"s":"Columbic efficiency","ce":98.24,"e":0.2},{"cycle":560,"s":"Columbic efficiency","ce":98.77,"e":0.2},{"cycle":570,"s":"Columbic efficiency","ce":98.59,"e":0.2},{"cycle":580,"s":"Columbic efficiency","ce":98.61,"e":0.2},{"cycle":590,"s":"Columbic efficiency","ce":98.59,"e":0.2},
{"cycle":600,"s":"Columbic efficiency","ce":98.45,"e":0.2},{"cycle":610,"s":"Columbic efficiency","ce":98.57,"e":0.2},{"cycle":620,"s":"Columbic efficiency","ce":98.47,"e":0.2},{"cycle":630,"s":"Columbic efficiency","ce":98.59,"e":0.2},{"cycle":640,"s":"Columbic efficiency","ce":98.35,"e":0.2},{"cycle":650,"s":"Columbic efficiency","ce":98.66,"e":0.2},{"cycle":660,"s":"Columbic efficiency","ce":98.45,"e":0.2},{"cycle":670,"s":"Columbic efficiency","ce":98.33,"e":0.2},{"cycle":680,"s":"Columbic efficiency","ce":98.3,"e":0.2},{"cycle":690,"s":"Columbic efficiency","ce":98.7,"e":0.2},
{"cycle":700,"s":"Columbic efficiency","ce":98.52,"e":0.2},{"cycle":710,"s":"Columbic efficiency","ce":98.75,"e":0.2},{"cycle":720,"s":"Columbic efficiency","ce":98.52,"e":0.2},{"cycle":730,"s":"Columbic efficiency","ce":98.45,"e":0.2},{"cycle":740,"s":"Columbic efficiency","ce":98.64,"e":0.2},{"cycle":750,"s":"Columbic efficiency","ce":98.26,"e":0.2},{"cycle":760,"s":"Columbic efficiency","ce":98.45,"e":0.2},{"cycle":770,"s":"Columbic efficiency","ce":98.54,"e":0.2},{"cycle":780,"s":"Columbic efficiency","ce":98.38,"e":0.2},{"cycle":790,"s":"Columbic efficiency","ce":98.43,"e":0.2},
{"cycle":800,"s":"Columbic efficiency","ce":98.61,"e":0.2},{"cycle":810,"s":"Columbic efficiency","ce":98.57,"e":0.2},{"cycle":820,"s":"Columbic efficiency","ce":98.71,"e":0.2},{"cycle":830,"s":"Columbic efficiency","ce":98.71,"e":0.2},{"cycle":840,"s":"Columbic efficiency","ce":98.29,"e":0.2},{"cycle":850,"s":"Columbic efficiency","ce":98.43,"e":0.2},{"cycle":860,"s":"Columbic efficiency","ce":98.43,"e":0.2},{"cycle":870,"s":"Columbic efficiency","ce":98.52,"e":0.2},{"cycle":880,"s":"Columbic efficiency","ce":97.76,"e":0.2},{"cycle":890,"s":"Columbic efficiency","ce":98.17,"e":0.2},
{"cycle":900,"s":"Columbic efficiency","ce":98.52,"e":0.2},{"cycle":910,"s":"Columbic efficiency","ce":98.01,"e":0.2},{"cycle":920,"s":"Columbic efficiency","ce":97.96,"e":0.2},{"cycle":930,"s":"Columbic efficiency","ce":98.2,"e":0.2},{"cycle":940,"s":"Columbic efficiency","ce":97.89,"e":0.2},{"cycle":950,"s":"Columbic efficiency","ce":97.5,"e":0.2},{"cycle":960,"s":"Columbic efficiency","ce":98.08,"e":0.2},{"cycle":970,"s":"Columbic efficiency","ce":98.1,"e":0.2},{"cycle":980,"s":"Columbic efficiency","ce":97.87,"e":0.2},{"cycle":990,"s":"Columbic efficiency","ce":97.84,"e":0.2},{"cycle":1000,"s":"Columbic efficiency","ce":97.64,"e":0.2}
]
},
"spacing": 25,
"bounds": "full",
"resolve": {"scale": {"x": "independent", "y": "independent", "color": "independent", "shape": "independent"}},
"vconcat": [
{
 "hconcat": [
  {
   "width": 715, "height": 578,
   "title": {"text": "(a)", "dx": -111, "dy": 54},
   "encoding": {
     "x": {"field": "x", "type": "quantitative", "scale": {"domain": [0, 324], "nice": false, "zero": false}, "axis": {"values": [0, 50, 100, 150, 200, 250, 300], "title": "Specific capacity (mAhg⁻¹)", "labelFontSize": 30, "titleFontSize": 34, "tickSize": 9, "labelPadding": 8, "titlePadding": 10}},
     "y": {"field": "E", "type": "quantitative", "scale": {"domain": [0.98, 1.811], "nice": false, "zero": false}, "axis": {"values": [1.0, 1.2, 1.4, 1.6, 1.8], "format": ".1f", "title": "E(V)", "labelFontSize": 30, "titleFontSize": 34, "tickSize": 9, "labelPadding": 10, "titlePadding": 5}}
   },
   "layer": [
    {"data": {"values": [{"x": 0.5, "E": 1.21, "E2": 1.525}]}, "mark": {"type": "rule", "color": "#12d2d2", "strokeWidth": 2.5}, "encoding": {"y2": {"field": "E2"}}},
    {"data": {"name": "gcd"}, "mark": {"type": "line", "strokeWidth": 3, "interpolate": "monotone", "clip": true},
     "encoding": {
       "color": {"field": "r", "type": "nominal", "scale": {"domain": ["0.1 Ag⁻¹", "0.2 Ag⁻¹", "0.3 Ag⁻¹", "0.4 Ag⁻¹", "0.5 Ag⁻¹", "0.6 Ag⁻¹", "0.7 Ag⁻¹"], "range": ["#444444", "#ff3333", "#1f6fd6", "#3cb371", "#bf7fef", "#dfa30b", "#12d2d2"]},
         "legend": {"orient": "none", "legendX": 519, "legendY": 122.5, "title": null, "symbolType": "M-1.84,0H1.84", "symbolSize": 1444, "symbolStrokeWidth": 3.5, "labelFontSize": 28, "labelOffset": 19, "rowPadding": 6.7, "labelColor": "#000000"}},
       "detail": {"field": "b", "type": "nominal"}
     }}
   ]
  },
  {
   "width": 717, "height": 578,
   "title": {"text": "(b)", "dx": -151, "dy": 45},
   "encoding": {
     "x": {"field": "cyc", "type": "quantitative", "scale": {"domain": [0, 41], "nice": false, "zero": false}, "axis": {"values": [0, 10, 20, 30, 40], "title": "Cycle no.", "labelFontSize": 31, "titleFontSize": 36, "tickSize": 12, "labelPadding": 8, "titlePadding": 8}},
     "y": {"field": "v", "type": "quantitative", "scale": {"domain": [120, 329.2], "nice": false, "zero": false}, "axis": {"values": [120, 160, 200, 240, 280, 320], "title": "Specific capacity (mAhg⁻¹)", "labelFontSize": 31, "titleFontSize": 36, "tickSize": 12, "labelPadding": 10, "titlePadding": 12}}
   },
   "layer": [
    {"data": {"values": [{"cyc": 5.5, "v": 120, "v2": 329.2}, {"cyc": 10.5, "v": 120, "v2": 329.2}, {"cyc": 15.5, "v": 120, "v2": 329.2}, {"cyc": 20.5, "v": 120, "v2": 329.2}, {"cyc": 25.5, "v": 120, "v2": 329.2}, {"cyc": 30.5, "v": 120, "v2": 329.2}, {"cyc": 35.5, "v": 120, "v2": 329.2}]},
     "mark": {"type": "rule", "color": "#1414ff", "strokeWidth": 3, "strokeDash": [3, 4]}, "encoding": {"y2": {"field": "v2"}}},
    {"data": {"name": "rate"}, "transform": [{"filter": "datum.s === 'Charging'"}], "mark": {"type": "errorbar", "ticks": true, "size": 12, "thickness": 1.5, "color": "#222222"}, "encoding": {"yError": {"field": "e"}}},
    {"data": {"name": "rate"}, "transform": [{"filter": "datum.s === 'Discharging'"}], "mark": {"type": "errorbar", "ticks": true, "size": 12, "thickness": 1.5, "color": "#ff2a2a"}, "encoding": {"yError": {"field": "e"}}},
    {"data": {"name": "rate"}, "mark": {"type": "point", "filled": true, "size": 60, "opacity": 1},
     "encoding": {"color": {"field": "s", "type": "nominal", "scale": {"domain": ["Charging", "Discharging"], "range": ["#333333", "#ff3030"]},
       "legend": {"orient": "none", "legendX": 27, "legendY": 494, "title": null, "labelFontSize": 27, "symbolSize": 50, "symbolType": "circle", "labelOffset": 23, "rowPadding": 8,
         "encode": {"labels": {"update": {"fill": {"signal": "datum.value === 'Discharging' ? '#ff1a1a' : '#111111'"}}}}}}}},
    {"data": {"values": [{"cyc": 0.4, "v": 309.3, "t": "0.1 Ag⁻¹"}, {"cyc": 5.6, "v": 283.6, "t": "0.2 Ag⁻¹"}, {"cyc": 10.7, "v": 266.1, "t": "0.3 Ag⁻¹"}, {"cyc": 15.8, "v": 241.5, "t": "0.4 Ag⁻¹"}, {"cyc": 20.5, "v": 208.3, "t": "0.5 Ag⁻¹"}, {"cyc": 25.6, "v": 185.6, "t": "0.6 Ag⁻¹"}, {"cyc": 30.6, "v": 156.4, "t": "0.7 Ag⁻¹"}, {"cyc": 35.8, "v": 296.2, "t": "0.1 Ag⁻¹"}]},
     "mark": {"type": "text", "align": "left", "baseline": "middle", "fontSize": 23, "fontWeight": "bold", "color": "#111111"}, "encoding": {"text": {"field": "t"}}}
   ]
  }
 ],
 "spacing": 186,
 "bounds": "flush",
 "resolve": {"scale": {"x": "independent", "y": "independent", "color": "independent", "shape": "independent"}}
},
{
 "hconcat": [
  {"width": 33, "height": 753, "view": {"stroke": null}, "data": {"values": [{"a": 1}]}, "mark": {"type": "point", "opacity": 0}, "encoding": {}},
  {
   "width": 1481, "height": 753,
   "view": {"stroke": "#000000", "strokeWidth": 3},
   "title": {"text": "(c)", "dx": -123, "dy": 40},
   "encoding": {"x": {"field": "cycle", "type": "quantitative", "scale": {"domain": [0, 1000], "nice": false, "zero": false}, "axis": {"values": [0, 200, 400, 600, 800, 1000], "format": "d", "title": "Cycle no.", "labelFontSize": 33, "titleFontSize": 37, "tickSize": 14, "labelPadding": 12, "titlePadding": 1, "domainWidth": 3}}},
   "layer": [
    {
     "encoding": {"y": {"field": "v", "type": "quantitative", "scale": {"domain": [160, 320], "nice": false, "zero": false}, "axis": {"orient": "left", "values": [180, 210, 240, 270, 300], "title": "Specific capacity (mAhg⁻¹)", "labelFontSize": 32, "titleFontSize": 36, "tickSize": 14, "labelPadding": 10, "titlePadding": 5, "labelColor": "#0000ff", "titleColor": "#0000ff", "domainColor": "#0000ff", "tickColor": "#0000ff", "domainWidth": 3}}},
     "layer": [
      {"data": {"values": [{"cycle": 0, "cycle2": 1000, "v": 179.5, "v2": 165.9}]}, "mark": {"type": "rect", "fill": "#ffffff", "fillOpacity": 0, "stroke": "#222222", "strokeWidth": 1.5}, "encoding": {"x2": {"field": "cycle2"}, "y2": {"field": "v2"}}},
      {"data": {"values": [{"cycle": 200, "v": 244.4, "v2": 160}, {"cycle": 400, "v": 241.3, "v2": 160}, {"cycle": 600, "v": 235.7, "v2": 160}, {"cycle": 800, "v": 233.5, "v2": 160}]}, "mark": {"type": "rule", "color": "#1a9e1a", "strokeWidth": 3.5, "strokeDash": [5, 15]}, "encoding": {"y2": {"field": "v2"}}},
      {"data": {"values": [{"cycle": 958, "cycle2": 992, "v": 176.8, "v2": 227}]}, "mark": {"type": "rule", "color": "#1a7a1a", "strokeWidth": 3.5, "strokeDash": [4, 14]}, "encoding": {"x2": {"field": "cycle2"}, "y2": {"field": "v2"}}},
      {"data": {"values": [{"cycle": 200, "v": 246.5}, {"cycle": 400, "v": 243.4}, {"cycle": 600, "v": 237.8}, {"cycle": 800, "v": 235.7}]}, "mark": {"type": "point", "shape": "triangle-up", "filled": true, "size": 420, "color": "#139a13", "opacity": 1}},
      {"data": {"values": [{"cycle": 993.5, "v": 229.5}]}, "mark": {"type": "point", "shape": "M0,-1.2L0.55,0.8L-0.55,0.8Z", "filled": true, "size": 200, "angle": 18, "color": "#139a13", "opacity": 1}},
      {"data": {"values": [{"cycle": 9, "v": 171.8, "t": "Retention"}]}, "mark": {"type": "text", "align": "left", "baseline": "middle", "fontSize": 37, "fontWeight": "bold", "color": "#178c17"}, "encoding": {"text": {"field": "t"}}},
      {"data": {"values": [{"cycle": 206.3, "v": 171.8, "t": "96.84%"}, {"cycle": 410.6, "v": 171.8, "t": "95.73%"}, {"cycle": 608.7, "v": 171.8, "t": "94.22%"}, {"cycle": 807.7, "v": 171.8, "t": "93.18%"}, {"cycle": 960, "v": 171.8, "t": "90.35%"}]}, "mark": {"type": "text", "align": "center", "baseline": "middle", "fontSize": 37, "fontWeight": "bold", "color": "#178c17"}, "encoding": {"text": {"field": "t"}}},
      {"data": {"name": "cap"}, "transform": [{"filter": "datum.s === 'Charging'"}], "mark": {"type": "errorbar", "ticks": true, "size": 20, "thickness": 1.5, "color": "#5a5aff"}, "encoding": {"yError": {"field": "e"}}},
      {"data": {"name": "cap"}, "transform": [{"filter": "datum.s === 'Discharging'"}], "mark": {"type": "errorbar", "ticks": true, "size": 20, "thickness": 1.5, "color": "#45a845"}, "encoding": {"yError": {"field": "e"}}},
      {"data": {"name": "cap"}, "mark": {"type": "point", "filled": true, "size": 170, "opacity": 1},
       "encoding": {
        "color": {"field": "s", "type": "nominal", "scale": {"domain": ["Charging", "Discharging", "Columbic efficiency"], "range": ["#3535f0", "#2e9a2e", "#ffa04a"]},
          "legend": {"orient": "none", "legendX": 29, "legendY": 506, "title": null, "labelFontSize": 34, "symbolSize": 130, "labelOffset": 33, "rowPadding": 11, "encode": {"labels": {"update": {"fill": {"signal": "datum.value === 'Charging' ? '#1a1aff' : datum.value === 'Discharging' ? '#1e9a1e' : '#ff8c1a'"}}}}}},
        "shape": {"field": "s", "type": "nominal", "scale": {"domain": ["Charging", "Discharging", "Columbic efficiency"], "range": ["triangle-up", "triangle-down", "circle"]},
          "legend": {"orient": "none", "legendX": 29, "legendY": 506, "title": null, "labelFontSize": 34, "symbolSize": 130, "labelOffset": 33, "rowPadding": 11, "encode": {"labels": {"update": {"fill": {"signal": "datum.value === 'Charging' ? '#1a1aff' : datum.value === 'Discharging' ? '#1e9a1e' : '#ff8c1a'"}}}}}}
       }},
      {"data": {"values": [{"cycle": 49.2, "v": 268.1, "k": 1}, {"cycle": 49.2, "v": 278.3, "k": 2}, {"cycle": 12, "v": 278.3, "k": 3}]}, "mark": {"type": "line", "color": "#4a72b8", "strokeWidth": 2.5}, "encoding": {"order": {"field": "k", "type": "quantitative"}}},
      {"data": {"values": [{"cycle": 10.5, "v": 278.3}]}, "mark": {"type": "point", "shape": "triangle-left", "filled": true, "size": 70, "color": "#4a72b8", "opacity": 1}},
      {"data": {"values": [{"cycle": 55.8, "v": 250.1, "k": 1}, {"cycle": 55.8, "v": 239.3, "k": 2}, {"cycle": 14, "v": 239.3, "k": 3}]}, "mark": {"type": "line", "color": "#35c08a", "strokeWidth": 2.5}, "encoding": {"order": {"field": "k", "type": "quantitative"}}},
      {"data": {"values": [{"cycle": 12.5, "v": 239.3}]}, "mark": {"type": "point", "shape": "triangle-left", "filled": true, "size": 70, "color": "#35c08a", "opacity": 1}}
     ]
    },
    {
     "encoding": {"y": {"field": "ce", "type": "quantitative", "scale": {"domain": [80, 100.96], "nice": false, "zero": false}, "axis": {"orient": "right", "values": [80, 84, 88, 92, 96, 100], "title": "Coulombic efficiency (%)", "labelFontSize": 31, "titleFontSize": 35, "tickSize": 14, "labelPadding": 13, "titlePadding": -17, "titleAngle": 270, "titleBaseline": "top", "labelColor": "#ff8c1a", "titleColor": "#ff8c1a", "domainColor": "#ff8c1a", "tickColor": "#ff8c1a", "domainWidth": 3}}},
     "layer": [
      {"data": {"name": "ce"}, "mark": {"type": "errorbar", "ticks": true, "size": 14, "thickness": 1.5, "color": "#ffa458"}, "encoding": {"yError": {"field": "e"}}},
      {"data": {"name": "ce"}, "mark": {"type": "point", "filled": true, "size": 45, "opacity": 1},
       "encoding": {
        "color": {"field": "s", "type": "nominal", "scale": {"domain": ["Charging", "Discharging", "Columbic efficiency"], "range": ["#3535f0", "#2e9a2e", "#ffa04a"]},
          "legend": {"orient": "none", "legendX": 29, "legendY": 506, "title": null, "labelFontSize": 34, "symbolSize": 130, "labelOffset": 33, "rowPadding": 11, "encode": {"labels": {"update": {"fill": {"signal": "datum.value === 'Charging' ? '#1a1aff' : datum.value === 'Discharging' ? '#1e9a1e' : '#ff8c1a'"}}}}}},
        "shape": {"field": "s", "type": "nominal", "scale": {"domain": ["Charging", "Discharging", "Columbic efficiency"], "range": ["triangle-up", "triangle-down", "circle"]},
          "legend": {"orient": "none", "legendX": 29, "legendY": 506, "title": null, "labelFontSize": 34, "symbolSize": 130, "labelOffset": 33, "rowPadding": 11, "encode": {"labels": {"update": {"fill": {"signal": "datum.value === 'Charging' ? '#1a1aff' : datum.value === 'Discharging' ? '#1e9a1e' : '#ff8c1a'"}}}}}}
       }},
      {"data": {"values": [{"cycle": 940, "ce": 96.87, "k": 1}, {"cycle": 940, "ce": 95.83, "k": 2}, {"cycle": 984, "ce": 95.83, "k": 3}]}, "mark": {"type": "line", "color": "#f07a2a", "strokeWidth": 2.5}, "encoding": {"order": {"field": "k", "type": "quantitative"}}},
      {"data": {"values": [{"cycle": 986, "ce": 95.83}]}, "mark": {"type": "point", "shape": "triangle-right", "filled": true, "size": 70, "color": "#f07a2a", "opacity": 1}}
     ]
    }
   ],
   "resolve": {"scale": {"y": "independent"}}
  }
 ],
 "spacing": 0,
 "bounds": "flush",
 "resolve": {"scale": {"x": "independent", "y": "independent", "color": "independent", "shape": "independent"}}
}
]
}
